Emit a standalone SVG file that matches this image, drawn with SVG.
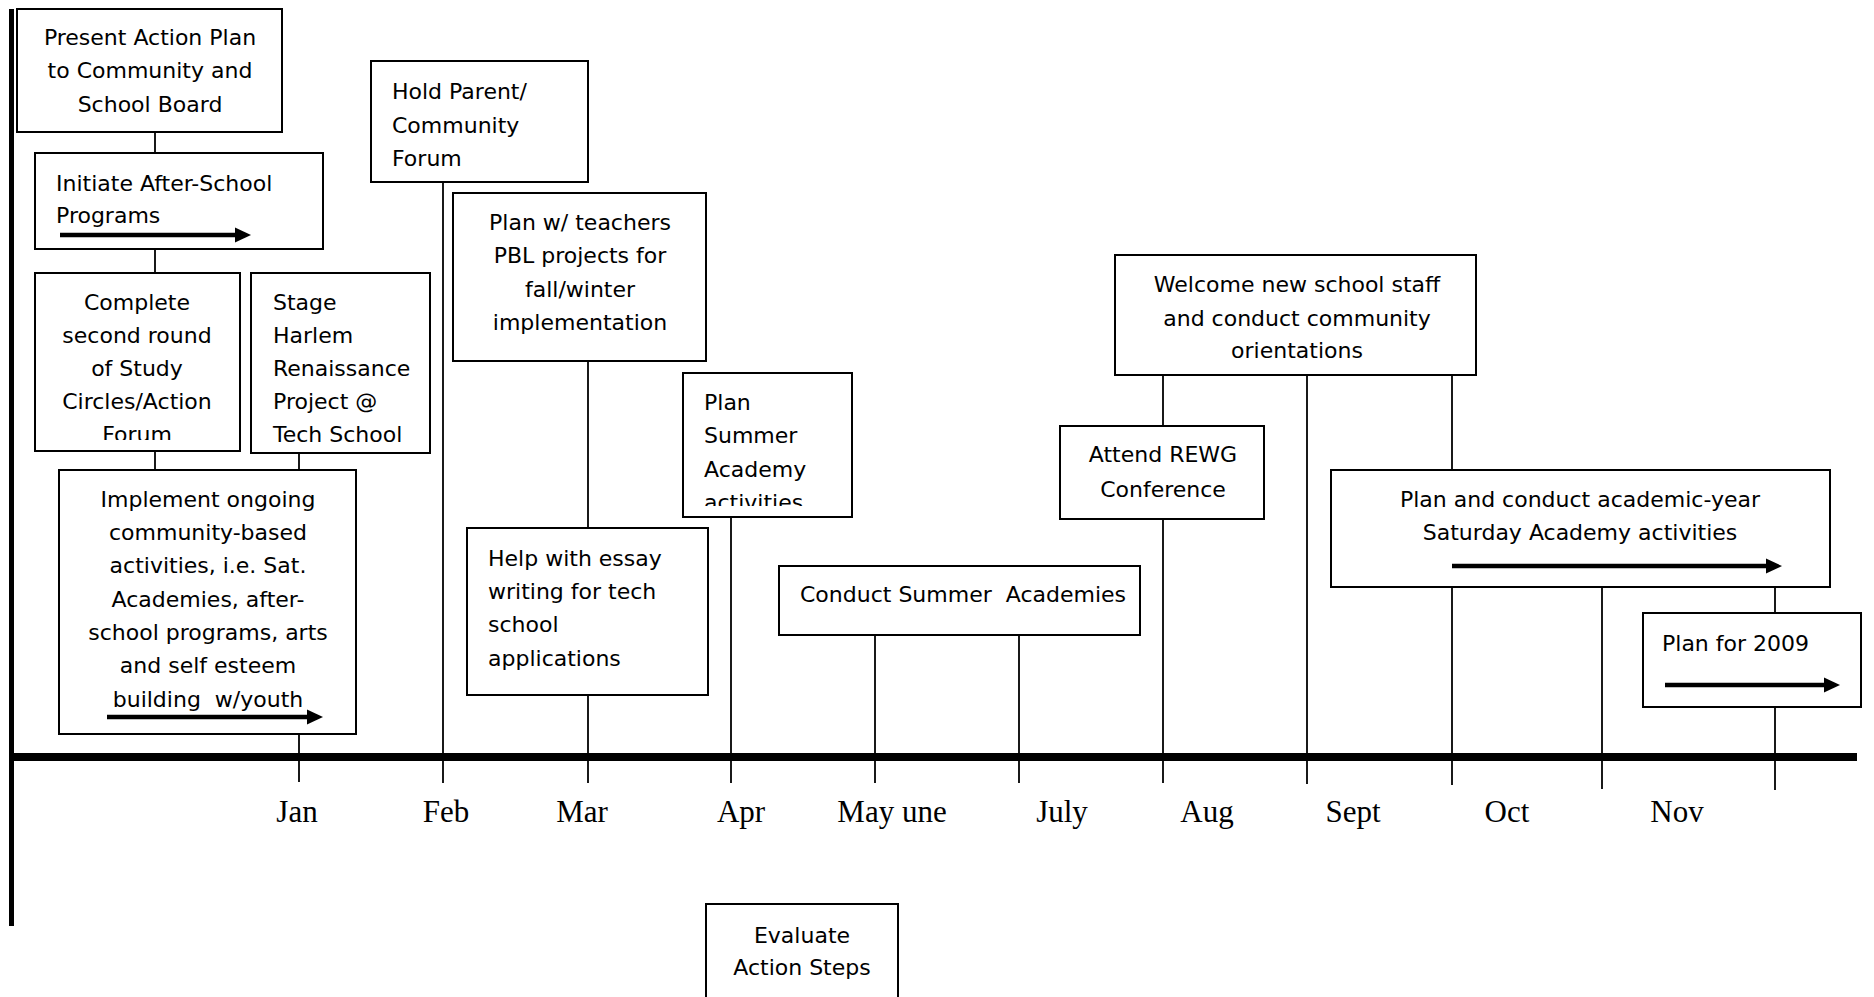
<svg xmlns="http://www.w3.org/2000/svg" width="1874" height="997" viewBox="0 0 1874 997">
<style>
.box{fill:#fff;stroke:#000;stroke-width:2}
.t{font-family:"DejaVu Sans","Liberation Sans",sans-serif;font-size:22px;fill:#000}
.c{text-anchor:middle}
.m{font-family:"Liberation Serif","Times New Roman",serif;font-size:31px;fill:#000;text-anchor:middle}
.ln{stroke:#000;stroke-width:1.8;fill:none}
.arr{stroke:#000;stroke-width:4.5;fill:none;marker-end:url(#ah)}
</style>
<defs>
<marker id="ah" markerUnits="userSpaceOnUse" markerWidth="17" markerHeight="16" refX="2" refY="8" orient="auto">
<path d="M0,0.5 L16,8 L0,15.5 z" fill="#000"/>
</marker>
<clipPath id="clip3"><rect x="35" y="273" width="205" height="167"/></clipPath>
<clipPath id="clip4"><rect x="251" y="273" width="179" height="169"/></clipPath>
<clipPath id="clipS"><rect x="683" y="373" width="169" height="133"/></clipPath>
</defs>
<rect width="1874" height="997" fill="#fff"/>

<g id="connectors">
<line class="ln" x1="155" y1="132" x2="155" y2="153"/>
<line class="ln" x1="155" y1="249" x2="155" y2="273"/>
<line class="ln" x1="155" y1="451" x2="155" y2="470"/>
<line class="ln" x1="299" y1="453" x2="299" y2="470"/>
<line class="ln" x1="299" y1="734" x2="299" y2="782"/>
<line class="ln" x1="443" y1="182" x2="443" y2="783"/>
<line class="ln" x1="588" y1="361" x2="588" y2="528"/>
<line class="ln" x1="588" y1="695" x2="588" y2="783"/>
<line class="ln" x1="731" y1="517" x2="731" y2="783"/>
<line class="ln" x1="875" y1="635" x2="875" y2="783"/>
<line class="ln" x1="1019" y1="635" x2="1019" y2="783"/>
<line class="ln" x1="1163" y1="375" x2="1163" y2="426"/>
<line class="ln" x1="1163" y1="519" x2="1163" y2="783"/>
<line class="ln" x1="1307" y1="375" x2="1307" y2="784"/>
<line class="ln" x1="1452" y1="375" x2="1452" y2="470"/>
<line class="ln" x1="1452" y1="587" x2="1452" y2="785"/>
<line class="ln" x1="1602" y1="587" x2="1602" y2="789"/>
<line class="ln" x1="1775" y1="587" x2="1775" y2="613"/>
<line class="ln" x1="1775" y1="707" x2="1775" y2="790"/>
</g>

<g id="axes">
<line x1="11.5" y1="9" x2="11.5" y2="926" stroke="#000" stroke-width="5"/>
<line x1="12" y1="757" x2="1857" y2="757" stroke="#000" stroke-width="8"/>
</g>

<g id="months">
<text class="m" x="297" y="822">Jan</text>
<text class="m" x="446" y="822">Feb</text>
<text class="m" x="582" y="822">Mar</text>
<text class="m" x="741" y="822">Apr</text>
<text class="m" x="892" y="822">May une</text>
<text class="m" x="1062" y="822">July</text>
<text class="m" x="1207" y="822">Aug</text>
<text class="m" x="1353" y="822">Sept</text>
<text class="m" x="1507" y="822">Oct</text>
<text class="m" x="1677" y="822">Nov</text>
</g>

<g id="present">
<rect class="box" x="17" y="9" width="265" height="123"/>
<text class="t c" x="150" y="45">Present Action Plan</text>
<text class="t c" x="150" y="78">to Community and</text>
<text class="t c" x="150" y="112">School Board</text>
</g>

<g id="initiate">
<rect class="box" x="35" y="153" width="288" height="96"/>
<text class="t" x="56" y="191">Initiate After-School</text>
<text class="t" x="56" y="223">Programs</text>
<line class="arr" x1="60" y1="235" x2="237" y2="235"/>
</g>

<g id="complete">
<rect class="box" x="35" y="273" width="205" height="178"/>
<g clip-path="url(#clip3)">
<text class="t c" x="137" y="310">Complete</text>
<text class="t c" x="137" y="343">second round</text>
<text class="t c" x="137" y="376">of Study</text>
<text class="t c" x="137" y="409">Circles/Action</text>
<text class="t c" x="137" y="442">Forum</text>
</g>
</g>

<g id="stage">
<rect class="box" x="251" y="273" width="179" height="180"/>
<g clip-path="url(#clip4)">
<text class="t" x="273" y="310">Stage</text>
<text class="t" x="273" y="343">Harlem</text>
<text class="t" x="273" y="376">Renaissance</text>
<text class="t" x="273" y="409">Project @</text>
<text class="t" x="273" y="442">Tech School</text>
</g>
</g>

<g id="implement">
<rect class="box" x="59" y="470" width="297" height="264"/>
<text class="t c" x="208" y="507">Implement ongoing</text>
<text class="t c" x="208" y="540">community-based</text>
<text class="t c" x="208" y="573">activities, i.e. Sat.</text>
<text class="t c" x="208" y="607">Academies, after-</text>
<text class="t c" x="208" y="640">school programs, arts</text>
<text class="t c" x="208" y="673">and self esteem</text>
<text class="t c" x="208" y="707" xml:space="preserve">building  w/youth</text>
<line class="arr" x1="107" y1="717" x2="309" y2="717"/>
</g>

<g id="forum">
<rect class="box" x="371" y="61" width="217" height="121"/>
<text class="t" x="392" y="99">Hold Parent/</text>
<text class="t" x="392" y="133">Community</text>
<text class="t" x="392" y="166">Forum</text>
</g>

<g id="pbl">
<rect class="box" x="453" y="193" width="253" height="168"/>
<text class="t c" x="580" y="230">Plan w/ teachers</text>
<text class="t c" x="580" y="263">PBL projects for</text>
<text class="t c" x="580" y="297">fall/winter</text>
<text class="t c" x="580" y="330">implementation</text>
</g>

<g id="essay">
<rect class="box" x="467" y="528" width="241" height="167"/>
<text class="t" x="488" y="566">Help with essay</text>
<text class="t" x="488" y="599">writing for tech</text>
<text class="t" x="488" y="632">school</text>
<text class="t" x="488" y="666">applications</text>
</g>

<g id="plansummer">
<rect class="box" x="683" y="373" width="169" height="144"/>
<g clip-path="url(#clipS)">
<text class="t" x="704" y="410">Plan</text>
<text class="t" x="704" y="443">Summer</text>
<text class="t" x="704" y="477">Academy</text>
<text class="t" x="704" y="510">activities</text>
</g>
</g>

<g id="conductsummer">
<rect class="box" x="779" y="566" width="361" height="69"/>
<text class="t" x="800" y="602" xml:space="preserve">Conduct Summer  Academies</text>
</g>

<g id="welcome">
<rect class="box" x="1115" y="255" width="361" height="120"/>
<text class="t c" x="1297" y="292">Welcome new school staff</text>
<text class="t c" x="1297" y="326">and conduct community</text>
<text class="t c" x="1297" y="358">orientations</text>
</g>

<g id="rewg">
<rect class="box" x="1060" y="426" width="204" height="93"/>
<text class="t c" x="1163" y="462">Attend REWG</text>
<text class="t c" x="1163" y="497">Conference</text>
</g>

<g id="saturday">
<rect class="box" x="1331" y="470" width="499" height="117"/>
<text class="t c" x="1580" y="507">Plan and conduct academic-year</text>
<text class="t c" x="1580" y="540">Saturday Academy activities</text>
<line class="arr" x1="1452" y1="566" x2="1768" y2="566"/>
</g>

<g id="plan2009">
<rect class="box" x="1643" y="613" width="218" height="94"/>
<text class="t" x="1662" y="651">Plan for 2009</text>
<line class="arr" x1="1665" y1="685" x2="1826" y2="685"/>
</g>

<g id="evaluate">
<rect class="box" x="706" y="904" width="192" height="110"/>
<text class="t c" x="802" y="943">Evaluate</text>
<text class="t c" x="802" y="975">Action Steps</text>
</g>
</svg>
